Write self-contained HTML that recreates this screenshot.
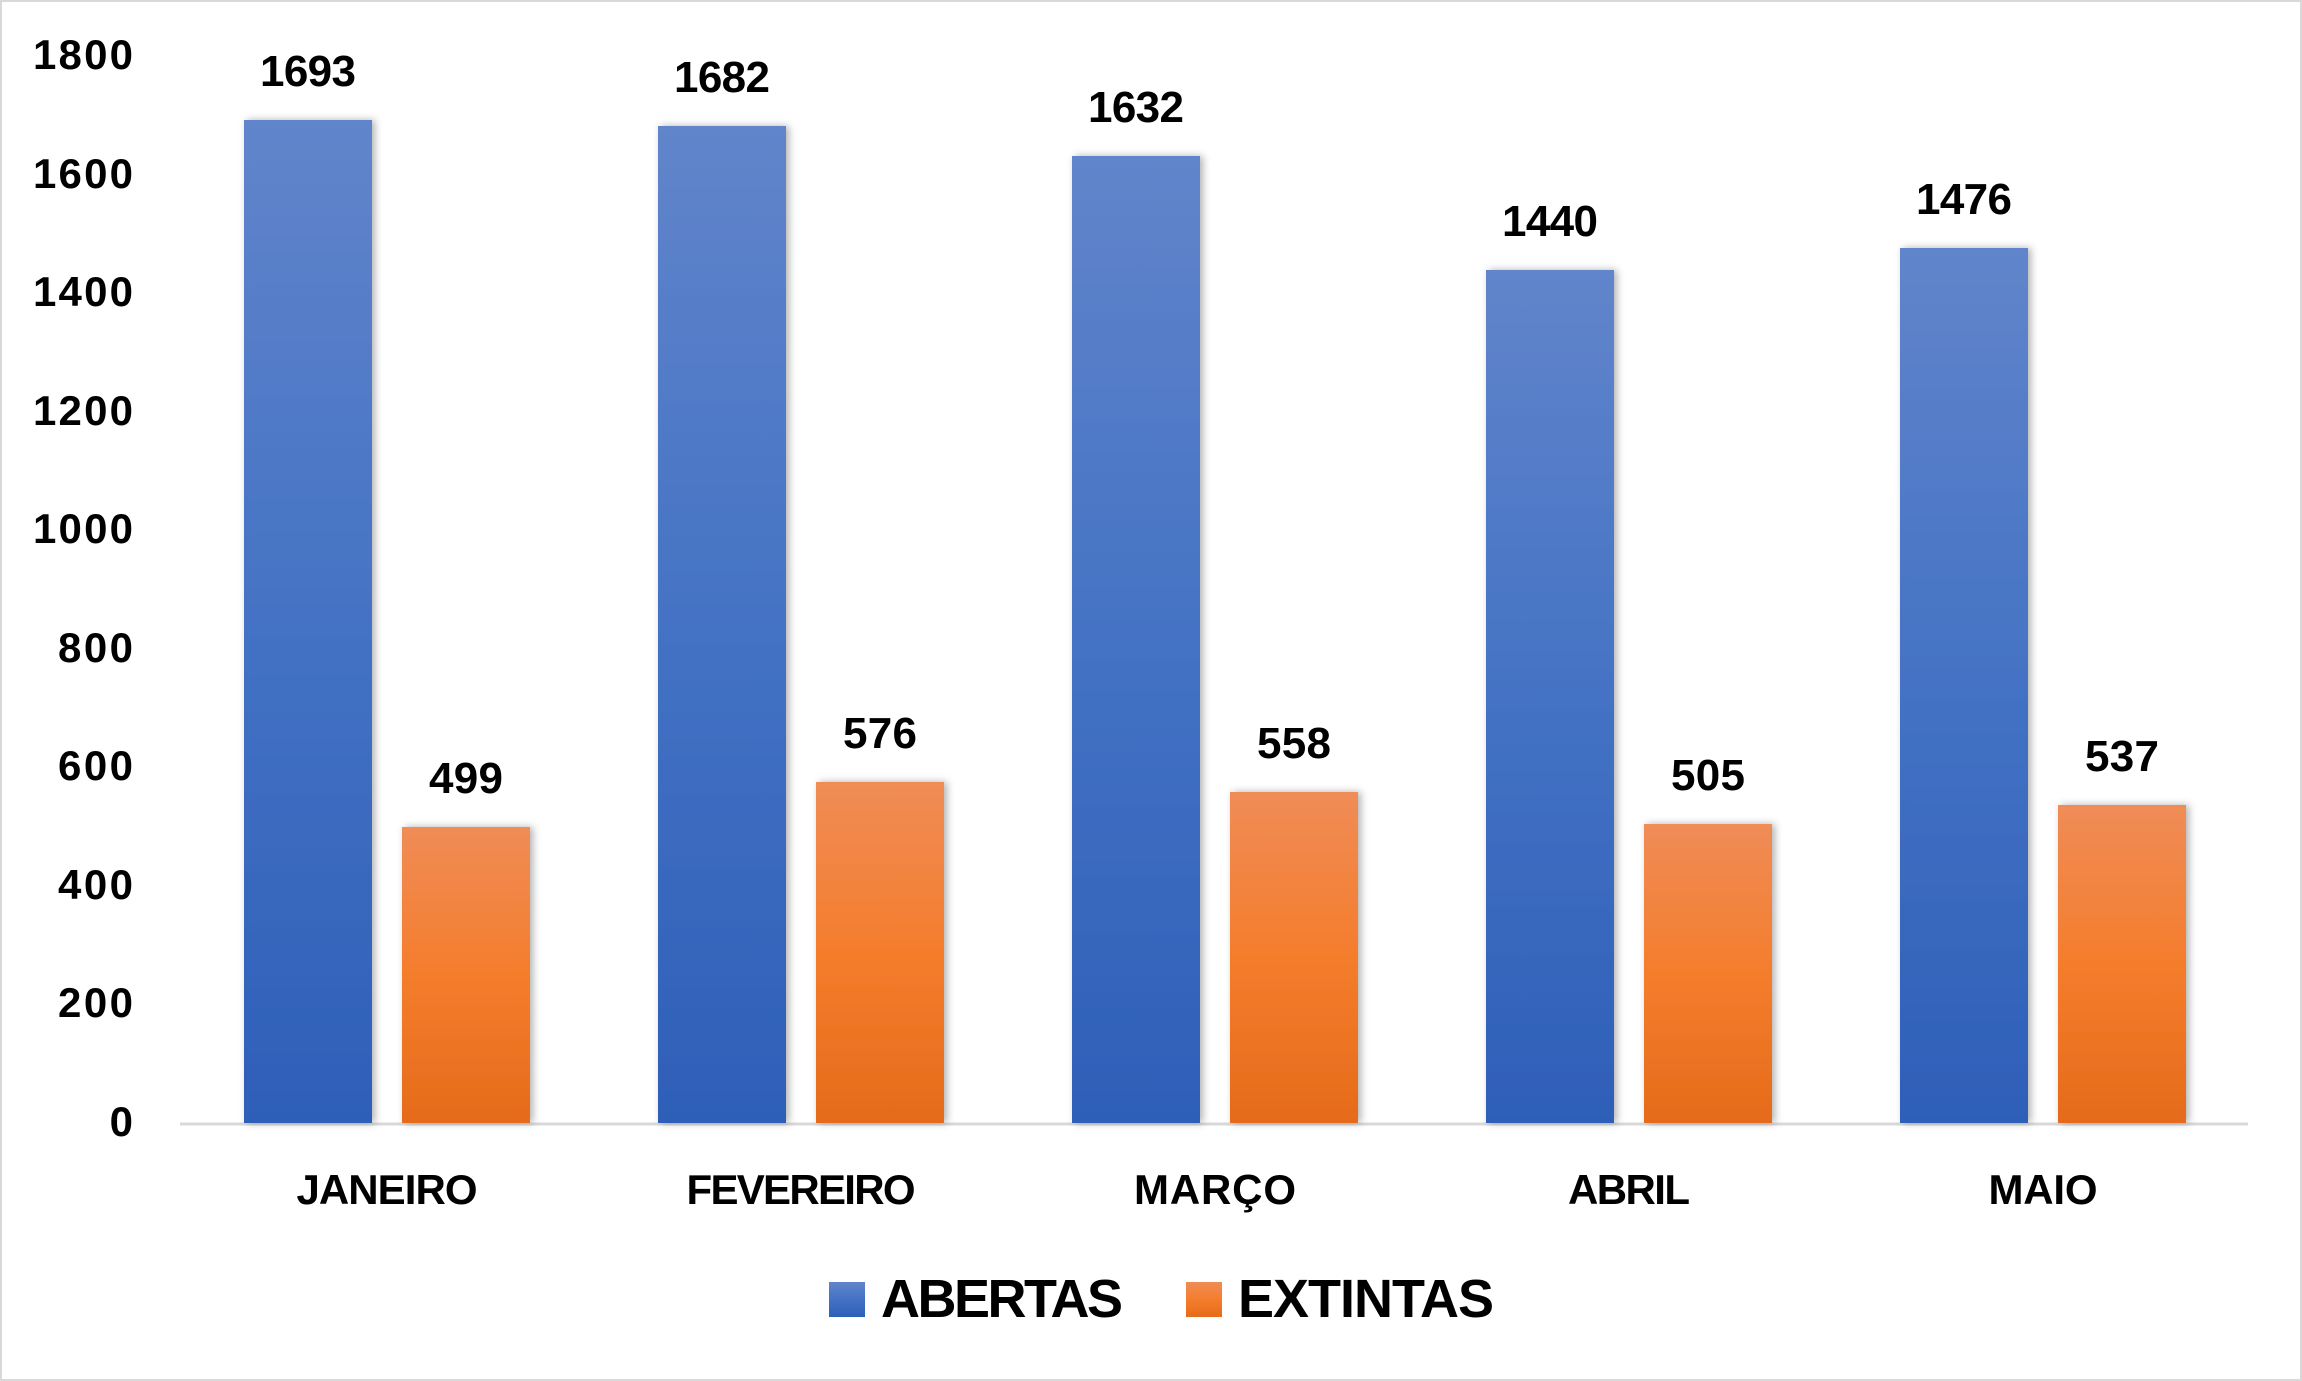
<!DOCTYPE html>
<html><head><meta charset="utf-8"><style>
html,body{margin:0;padding:0;background:#fff;}
svg{display:block;}
text{font-family:"Liberation Sans",sans-serif;font-weight:bold;fill:#000;}
</style></head><body>
<svg width="2302" height="1381" viewBox="0 0 2302 1381" xmlns="http://www.w3.org/2000/svg">
<defs>
<linearGradient id="gb" x1="0" y1="0" x2="0" y2="1">
<stop offset="0" stop-color="#6185cb"/><stop offset="0.5" stop-color="#4472c4"/><stop offset="1" stop-color="#2e5fb8"/>
</linearGradient>
<linearGradient id="go" x1="0" y1="0" x2="0" y2="1">
<stop offset="0" stop-color="#f08c57"/><stop offset="0.5" stop-color="#f47d2c"/><stop offset="1" stop-color="#e56b1a"/>
</linearGradient>
<filter id="sh" x="-20%" y="-5%" width="140%" height="110%"><feDropShadow dx="3" dy="0" stdDeviation="4" flood-color="#000" flood-opacity="0.3"/></filter>
</defs>
<rect x="1" y="1" width="2300" height="1379" fill="#fff" stroke="#d9d9d9" stroke-width="2"/>
<g font-size="42" text-anchor="end">
<text x="133" y="69" textLength="100">1800</text>
<text x="133" y="188" textLength="100">1600</text>
<text x="133" y="306" textLength="100">1400</text>
<text x="133" y="425" textLength="100">1200</text>
<text x="133" y="543" textLength="100">1000</text>
<text x="133" y="662" textLength="75">800</text>
<text x="133" y="780" textLength="75">600</text>
<text x="133" y="899" textLength="75">400</text>
<text x="133" y="1017" textLength="75">200</text>
<text x="133" y="1136" textLength="25">0</text>
</g>
<line x1="180" y1="1124" x2="2248" y2="1124" stroke="#d9d9d9" stroke-width="3"/>
<g filter="url(#sh)">
<rect x="244" y="120" width="128" height="1003" fill="url(#gb)"/>
<rect x="402" y="827" width="128" height="296" fill="url(#go)"/>
<rect x="658" y="126" width="128" height="997" fill="url(#gb)"/>
<rect x="816" y="782" width="128" height="341" fill="url(#go)"/>
<rect x="1072" y="156" width="128" height="967" fill="url(#gb)"/>
<rect x="1230" y="792" width="128" height="331" fill="url(#go)"/>
<rect x="1486" y="270" width="128" height="853" fill="url(#gb)"/>
<rect x="1644" y="824" width="128" height="299" fill="url(#go)"/>
<rect x="1900" y="248" width="128" height="875" fill="url(#gb)"/>
<rect x="2058" y="805" width="128" height="318" fill="url(#go)"/>
</g>
<g font-size="44" text-anchor="middle">
<text x="308" y="86" textLength="96">1693</text>
<text x="466" y="793" textLength="74">499</text>
<text x="722" y="92" textLength="96">1682</text>
<text x="880" y="748" textLength="74">576</text>
<text x="1136" y="122" textLength="96">1632</text>
<text x="1294" y="758" textLength="74">558</text>
<text x="1550" y="236" textLength="96">1440</text>
<text x="1708" y="790" textLength="74">505</text>
<text x="1964" y="214" textLength="96">1476</text>
<text x="2122" y="771" textLength="74">537</text>
</g>
<g font-size="42" text-anchor="middle">
<text x="387" y="1204" textLength="181">JANEIRO</text>
<text x="801" y="1204" textLength="229">FEVEREIRO</text>
<text x="1215" y="1204" textLength="162">MARÇO</text>
<text x="1629" y="1204" textLength="122">ABRIL</text>
<text x="2043" y="1204" textLength="109">MAIO</text>
</g>
<rect x="829" y="1282" width="36" height="35" fill="url(#gb)"/>
<text x="881" y="1317" font-size="54" textLength="242">ABERTAS</text>
<rect x="1186" y="1282" width="36" height="35" fill="url(#go)"/>
<text x="1238" y="1317" font-size="54" textLength="256">EXTINTAS</text>
</svg>
</body></html>
